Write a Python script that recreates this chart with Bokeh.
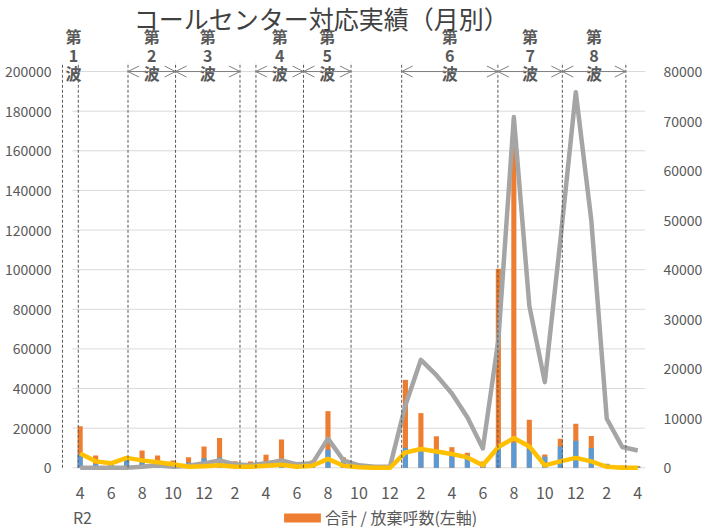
from bokeh.plotting import figure
from bokeh.models import (Range1d, LinearAxis, FixedTicker, NumeralTickFormatter, Label,
                          Arrow, OpenHead, Legend, LegendItem)
from bokeh.core.properties import value
from bokeh.embed import file_html
from bokeh.resources import INLINE

FONT = "Noto Sans CJK JP"

# ---------------- data ----------------
months = list(range(37))                      # R2.4 ... R5.4
month_numbers = [4, 5, 6, 7, 8, 9, 10, 11, 12, 1, 2, 3] * 3 + [4]
year_label = "R2"

total_calls = [21000, 6200, 2800, 5000, 8700, 6200, 3700, 5300, 10700, 15100,
               3300, 3200, 6600, 14300, 2800, 3700, 28600, 5300, 1700, 1200,
               900, 44400, 27600, 15900, 10400, 7600, 3200, 100400, 163700, 24200,
               6700, 14600, 22200, 16100, 2000, 1200, 900]
answered_calls = [7000, 1900, 2500, 4500, 2700, 1500, 1000, 2700, 4800, 5200,
                  1900, 1500, 2700, 3600, 1900, 1900, 9100, 3500, 1000, 700,
                  600, 10100, 10300, 8600, 7800, 6400, 2700, 10300, 12800, 9500,
                  5600, 10800, 13700, 10000, 1900, 500, 500]
gray_series = [0, 0, 0, 0, 200, 500, 200, 400, 900, 1500,
               700, 500, 900, 1500, 700, 900, 5900, 1500, 500, 200,
               200, 12600, 21800, 18700, 15000, 10200, 3900, 25800, 70800, 32700,
               17300, 45800, 75800, 50000, 9900, 4200, 3500]
yellow_series = [2900, 1300, 900, 2000, 1500, 1100, 700, 200, 300, 500,
                 200, 200, 400, 600, 200, 400, 1800, 400, 100, 0,
                 0, 3100, 3800, 3300, 2800, 2100, 500, 4200, 6000, 4300,
                 500, 1300, 2000, 1300, 200, 0, 0]

left_ticks = [0, 20000, 40000, 60000, 80000, 100000, 120000, 140000, 160000, 180000, 200000]
right_ticks = [0, 10000, 20000, 30000, 40000, 50000, 60000, 70000, 80000]

wave_names = ["1", "2", "3", "4", "5", "6", "7", "8"]
wave_start = [-1.14, 3.09, 6.16, 11.35, 14.42, 20.76, 26.97, 31.13]
wave_end = [-0.12, 6.16, 10.32, 14.42, 17.49, 26.97, 31.13, 35.23]

title_text = "コールセンター対応実績（月別）"
legend_text = "合計 / 放棄呼数(左軸)"

# ---------------- figure ----------------
p = figure(width=705, height=528, output_backend="svg", toolbar_location=None,
           x_range=Range1d(-1.268, 36.5), y_range=Range1d(-30635, 235850),
           min_border_left=60, min_border_right=55, min_border_top=0, min_border_bottom=0,
           x_axis_location=None)
p.extra_y_ranges = {"right": Range1d(-12254, 94340)}
p.outline_line_color = None
p.xgrid.visible = False
p.ygrid.visible = False
p.background_fill_color = "white"
p.border_fill_color = "white"

# axes
xa = LinearAxis(ticker=FixedTicker(ticks=months[::2]), fixed_location=0)
xa.major_label_overrides = {m: str(month_numbers[m]) for m in months[::2]}
p.add_layout(xa, "below")
ya = p.yaxis[0]
ya.ticker = FixedTicker(ticks=left_ticks)
ya.formatter = NumeralTickFormatter(format="0")
ra = LinearAxis(y_range_name="right", ticker=FixedTicker(ticks=right_ticks),
                formatter=NumeralTickFormatter(format="0"))
p.add_layout(ra, "right")
for ax, so, fs in ((xa, 13, "16px"), (ya, 3, "14px"), (ra, 12, "14px")):
    ax.axis_line_color = None
    ax.major_tick_line_color = None
    ax.minor_tick_line_color = None
    ax.major_label_standoff = so
    ax.major_label_text_font = FONT
    ax.major_label_text_font_size = fs
    ax.major_label_text_color = "#595959"

# gridlines (only across the category area)
p.segment(x0=months[0] - 0.5, x1=months[-1] + 0.5, y0=left_ticks, y1=left_ticks,
          line_color="#D9D9D9", line_width=1)

# bars
orange = p.vbar(x=months, width=0.33, bottom=0, top=total_calls,
                fill_color="#ED7D31", line_color=None)
p.vbar(x=months, width=0.33, bottom=0, top=answered_calls,
       fill_color="#5B9BD5", line_color=None)

# lines (right axis)
p.line(months, gray_series, y_range_name="right", line_color="#A5A5A5",
       line_width=4.5, line_join="round")
p.line(months, yellow_series, y_range_name="right", line_color="#FFC000",
       line_width=4.5, line_join="round")

# wave boundaries
bounds = sorted(set(wave_start + wave_end))
p.segment(x0=bounds, x1=bounds, y0=0, y1=204500, line_color="#595959",
          line_width=1, line_dash="3 2")
for s, e in list(zip(wave_start, wave_end))[1:]:
    p.add_layout(Arrow(start=OpenHead(size=11, line_color="#7F7F7F", line_width=1),
                       end=OpenHead(size=11, line_color="#7F7F7F", line_width=1),
                       x_start=s, x_end=e, y_start=200000, y_end=200000,
                       line_color="#7F7F7F", line_width=1))
centers = [(s + e) / 2 for s, e in zip(wave_start, wave_end)]
centers[0] += 0.2
for txts, yy in ((["第"] * 8, 218180), (wave_names, 208080), (["波"] * 8, 199500)):
    p.text(x=centers, y=[yy] * 8, text=txts, text_align="center", text_baseline="middle",
           text_font=value(FONT), text_font_size="16px", text_font_style="bold",
           text_color="#595959")

# title and year label
p.add_layout(Label(x=15.57, y=227000, text=title_text, text_align="center",
                   text_baseline="middle", text_font=FONT, text_font_size="25px",
                   text_color="#404040"))
p.add_layout(Label(x=0.15, y=-25080, text=year_label, text_align="center",
                   text_baseline="middle", text_font=FONT, text_font_size="16px",
                   text_color="#595959"))

legend = Legend(items=[LegendItem(label=legend_text, renderers=[orange])],
                location=(219, -1), orientation="horizontal", padding=0, margin=0,
                border_line_color=None, background_fill_alpha=0,
                glyph_width=46, glyph_height=11, label_standoff=0, label_height=24,
                label_text_font=FONT, label_text_font_size="16px", label_text_color="#595959")
p.add_layout(legend)

open("out.html", "w").write(file_html(p, INLINE))
